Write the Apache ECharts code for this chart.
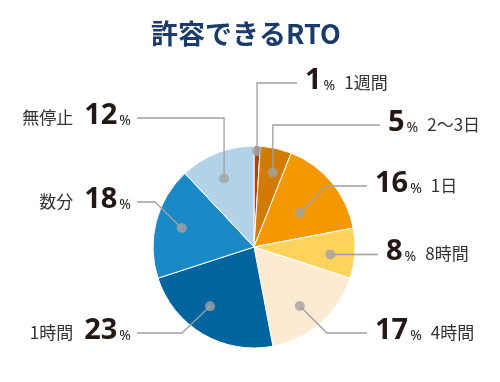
<!DOCTYPE html>
<html>
<head>
<meta charset="utf-8">
<script src="https://cdn.jsdelivr.net/npm/echarts@6/dist/echarts.min.js"></script>
<style>
  html, body { margin: 0; padding: 0; background: #fff; }
  #main { width: 500px; height: 382px; }
</style>
</head>
<body>
<div id="main"></div>
<script>
// data
var categories = ['1週間', '2〜3日', '1日', '8時間', '4時間', '1時間', '数分', '無停止'];
var values = [1, 5, 16, 8, 17, 23, 18, 12];
var colors = ['#a8410a', '#d17b02', '#f39800', '#fdd35c', '#fcebd2', '#00649f', '#1b89c5', '#b3d2e7'];

// layout
var CX = 254, CY = 247, R = 101;
var dotR = [0.95, 0.76, 0.57, 0.76, 0.74, 0.73, 0.74, 0.74];   // dot distance from centre (x R)
var dotShift = [0, 1.6, 3, 2, 3.6, 6, 0.3, -2];                  // degrees
// leader: bendX (null = straight up/down from the dot), y of the horizontal part, end x
var leaders = [
    { bendX: null, y: 83, endX: 297 },
    { bendX: null, y: 125, endX: 380 },
    { bendX: 326, y: 186, endX: 367 },
    { bendX: 'h', y: 254, endX: 378 },
    { bendX: 327, y: 333, endX: 367 },
    { bendX: 182, y: 333, endX: 137 },
    { bendX: 155, y: 202, endX: 137 },
    { bendX: null, y: 118, endX: 137 }
];

var total = values.reduce(function (a, b) { return a + b; }, 0);
var dots = [];      // [radius, angle(%)] for the polar scatter
var acc = 0;
for (var i = 0; i < values.length; i++) {
    var mid = (acc + values[i] / 2) / total * 100 + dotShift[i] / 3.6;
    dots.push([dotR[i] * R, mid]);
    acc += values[i];
}

var chart = echarts.init(document.getElementById('main'));

var option = {
    animation: false,
    title: {
        text: '許容できるRTO',
        left: 146,
        top: 15,
        textStyle: {
            fontFamily: 'Noto Sans CJK JP',
            fontWeight: 'bold',
            fontSize: 27,
            color: '#1b3b6b'
        }
    },
    polar: { center: [CX, CY], radius: R },
    angleAxis: { type: 'value', min: 0, max: 100, startAngle: 90, clockwise: true, show: false },
    radiusAxis: { type: 'value', min: 0, max: R, show: false },
    series: [
        {
            type: 'pie',
            center: [CX, CY],
            radius: R,
            startAngle: 90,
            clockwise: true,
            avoidLabelOverlap: false,
            itemStyle: { borderColor: '#fff', borderWidth: 1 },
            data: categories.map(function (c, k) {
                return { name: c, value: values[k], itemStyle: { color: colors[k] } };
            }),
            label: {
                show: true,
                position: 'outside',
                formatter: function (p) {
                    if (p.dataIndex >= 5) {
                        return '{name|' + p.name + '}{num|' + p.value + '}{pct|%}';
                    }
                    return '{num|' + p.value + '}{pct|%}{nameR|' + p.name + '}';
                },
                rich: {
                    num: {
                        fontFamily: 'Noto Sans', fontWeight: 'bold', fontSize: 29,
                        color: '#231815', lineHeight: 30, verticalAlign: 'middle'
                    },
                    pct: {
                        fontFamily: 'Noto Sans', fontSize: 14, color: '#231815',
                        lineHeight: 20, verticalAlign: 'middle', padding: [10, 0, 0, 2]
                    },
                    name: {
                        fontFamily: 'Noto Sans CJK JP', fontSize: 17, color: '#333',
                        lineHeight: 20, verticalAlign: 'middle', padding: [3, 11, 0, 0]
                    },
                    nameR: {
                        fontFamily: 'Noto Sans CJK JP', fontSize: 17, color: '#333',
                        lineHeight: 20, verticalAlign: 'middle', padding: [3, 0, 0, 9]
                    }
                }
            },
            labelLine: { show: false },
            labelLayout: function (p) {
                var k = p.dataIndex;
                var L = leaders[k];
                var left = k >= 5;
                return {
                    x: left ? L.endX - 6 : L.endX + 8,
                    y: L.y - 2,
                    align: left ? 'right' : 'left',
                    verticalAlign: 'middle'
                };
            }
        },
        {
            type: 'scatter',
            coordinateSystem: 'polar',
            symbolSize: 10,
            z: 10,
            itemStyle: { color: '#a3a3a3' },
            data: dots
        }
    ]
};

chart.setOption(option);

// leader lines: from each dot (placed by the polar scale) to its label
var lines = dots.map(function (d, k) {
    var p = chart.convertToPixel({ seriesIndex: 1 }, d);
    var L = leaders[k];
    var bend = (L.bendX === null || L.bendX === 'h') ? [p[0], L.y] : [L.bendX, L.y];
    var pts = L.bendX === 'h' ? [p, [L.endX, p[1]]] : [p, bend, [L.endX, L.y]];
    return {
        type: 'polyline',
        z: 5,
        shape: { points: pts },
        style: { stroke: '#a0a0a0', lineWidth: 1.3, fill: null }
    };
});
chart.setOption({ graphic: { elements: lines } });
</script>
</body>
</html>
